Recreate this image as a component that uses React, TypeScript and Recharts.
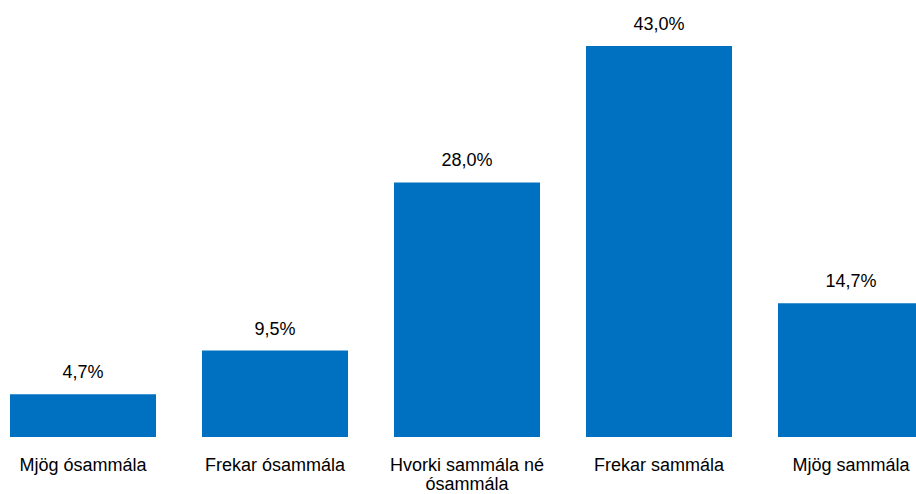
import React from "react";
import { BarChart, Bar, XAxis, YAxis, LabelList } from "recharts";

const categories = ["Mjög ósammála", "Frekar ósammála", "Hvorki sammála né ósammála", "Frekar sammála", "Mjög sammála"];
const shares = [4.7, 9.5, 28.0, 43.0, 14.7];

const data = categories.map((c, i) => ({ name: c, value: shares[i] }));

const FONT = "'Liberation Sans', Arial, sans-serif";

function wrap(text: string, maxChars: number): string[] {
  const words = text.split(" ");
  const lines: string[] = [];
  let cur = "";
  for (const w of words) {
    const next = cur ? cur + " " + w : w;
    if (next.length > maxChars && cur) {
      lines.push(cur);
      cur = w;
    } else cur = next;
  }
  if (cur) lines.push(cur);
  return lines;
}

const Tick = (props: any) => {
  const { x, y, payload } = props;
  const lines = wrap(payload.value, 18);
  return (
    <text x={x} y={y} textAnchor="middle" fontFamily={FONT} fontSize={18} fill="#000">
      {lines.map((l, i) => (
        <tspan key={i} x={x} dy={i === 0 ? 26 : 19}>
          {l}
        </tspan>
      ))}
    </text>
  );
};

const fmt = (v: number) => v.toFixed(1).replace(".", ",") + "%";

export default function App() {
  return (
    <div style={{ position: "fixed", left: 0, top: 0, width: 916, height: 494, overflow: "hidden", background: "#fff" }}>
      <div style={{ marginLeft: -13 }}>
        <BarChart
          width={960}
          height={494}
          data={data}
          margin={{ top: 46, right: 0, bottom: 0, left: 0 }}
          barCategoryGap={23}
        >
          <XAxis dataKey="name" axisLine={false} tickLine={false} tick={<Tick />} interval={0} height={57} />
          <YAxis hide domain={[0, 43]} />
          <Bar dataKey="value" fill="#0070C0" isAnimationActive={false}>
            <LabelList
              dataKey="value"
              position="top"
              offset={16}
              formatter={(v: any) => fmt(Number(v))}
              style={{ fontFamily: FONT, fontSize: 18, fill: "#000" }}
            />
          </Bar>
        </BarChart>
      </div>
    </div>
  );
}
